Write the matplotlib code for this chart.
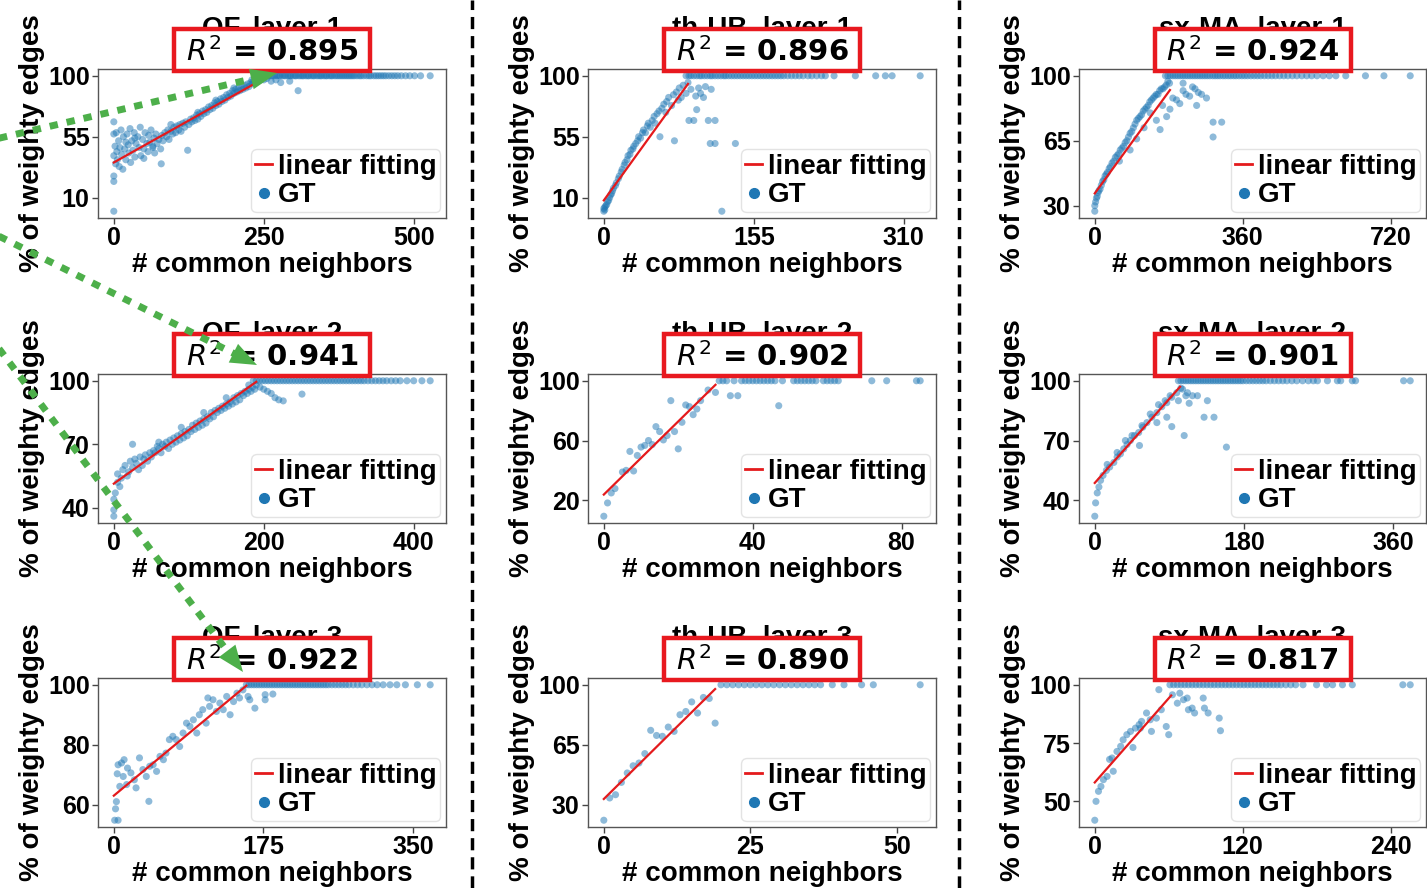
import numpy as np
import matplotlib
matplotlib.use("Agg")
import matplotlib.pyplot as plt
from matplotlib.lines import Line2D
from matplotlib.patches import FancyArrowPatch, Rectangle

plt.rcParams['font.family'] = ['Liberation Sans', 'DejaVu Sans']
plt.rcParams['font.weight'] = 'normal'
plt.rcParams['mathtext.fontset'] = 'custom'
plt.rcParams['mathtext.it'] = 'DejaVu Sans:italic:normal'
plt.rcParams['mathtext.rm'] = 'DejaVu Sans:normal'
plt.rcParams['mathtext.bf'] = 'DejaVu Sans:bold'

# ---------------- data ----------------
SATURATED = 100

titles = ["OF, layer-1", "th-UB, layer-1", "sx-MA, layer-1",
          "OF, layer-2", "th-UB, layer-2", "sx-MA, layer-2",
          "OF, layer-3", "th-UB, layer-3", "sx-MA, layer-3"]
r2_values = ["0.895", "0.896", "0.924",
             "0.941", "0.902", "0.901",
             "0.922", "0.890", "0.817"]
x_ticks = [[0, 250, 500], [0, 155, 310], [0, 360, 720],
           [0, 200, 400], [0, 40, 80], [0, 180, 360],
           [0, 175, 350], [0, 25, 50], [0, 120, 240]]
y_ticks = [[10, 55, 100], [10, 55, 100], [30, 65, 100],
           [40, 70, 100], [20, 60, 100], [40, 70, 100],
           [60, 80, 100], [30, 65, 100], [50, 75, 100]]

# linear fitting end points (x0, x1), (y0, y1)
fit_x = [[0, 252], [0, 87], [0, 183],
         [0, 190], [0, 30], [0, 103],
         [0, 155], [0, 19], [0, 62]]
fit_y = [[36, 98.5], [8, 94], [36.6, 92.3],
         [51.4, 99.5], [23.8, 97.3], [48.7, 97],
         [63, 99.7], [33.3, 97.5], [58.1, 95.4]]

# ---- OF, layer-1 ----
of1_x = [0, 0, 0, 0, 0, 0, 2, 3, 4, 5, 6, 8, 9, 10, 12, 13, 15, 16, 18, 20, 22, 24, 25, 27, 28,
         30, 32, 34, 35, 37, 40, 42, 44, 45, 48, 50, 52, 55, 57, 58, 60, 62, 65, 67, 68, 70, 72,
         75, 78, 79, 80, 82, 85, 88, 90, 92, 95, 98, 100, 103, 105, 108, 110, 112, 115, 118, 120,
         123, 125, 128, 130, 133, 135, 138, 140, 143, 145, 148, 150, 153, 155, 158, 160, 163, 165,
         168, 170, 173, 175, 178, 180, 183, 185, 188, 190, 193, 195, 198, 200, 203, 205, 208, 210,
         213, 215, 218, 220, 223, 225, 228, 230, 233, 235, 238, 240, 243, 245, 248, 250, 255, 262,
         270, 278, 293, 307, 20, 35, 50, 65, 95, 140, 170, 200, 230]
of1_y = [66, 57, 41, 26, 22, 0, 48, 35, 58, 44, 38, 52, 33, 47, 60, 42, 31, 55, 46, 38, 57, 49, 43, 61, 36,
         52, 45, 58, 40, 50, 55, 47, 62, 41, 53, 46, 58, 50, 44, 56, 51, 60, 48, 54, 43, 57, 50,
         53, 46, 35, 56, 52, 58, 55, 60, 53, 59, 57, 62, 58, 63, 60, 64, 59, 65, 62, 66,
         45, 64, 68, 66, 69, 67, 71, 68, 72, 70, 74, 72, 75, 73, 77, 75, 78, 76,
         80, 78, 81, 79, 83, 81, 84, 82, 86, 84, 87, 85, 89, 87, 90, 88, 91, 89,
         92, 90, 93, 91, 94, 92, 95, 94, 96, 95, 97, 96, 98, 97, 99, 97, 98, 96,
         97, 95, 96, 89, 51, 54, 39, 47, 64, 73, 82, 91, 97]
of1_flat_x = [240, 244, 247, 251, 255, 258, 262, 265, 268, 272, 275, 277, 281, 284, 286, 290, 293, 295,
              299, 302, 304, 308, 311, 314, 316, 320, 323, 325, 329, 332, 334, 338, 341, 344, 346, 350,
              353, 355, 359, 362, 364, 368, 371, 374, 377, 380, 383, 386, 389, 392, 395, 398, 401, 405,
              409, 412, 416, 421, 425, 428, 433, 437, 441, 445, 449, 453, 458, 463, 468, 473, 479, 486,
              493, 501, 511, 527]

# ---- th-UB, layer-1 ----
th1_x = [0, 0, 1, 1, 2, 3, 4, 5, 6, 7, 8, 9, 10, 12, 13, 15, 16, 18, 19, 21, 22, 24, 25, 27, 28, 30,
         31, 33, 35, 36, 38, 40, 41, 43, 45, 46, 48, 50, 52, 53, 55, 57, 58, 60, 62, 64, 65, 67, 70,
         72, 73, 75, 77, 78, 80, 82, 85, 87, 88, 90, 93, 95, 96, 98, 100, 103, 105, 108, 110, 111,
         115, 115, 122, 136]
th1_y = [0, 2, 1, 3, 4, 5, 7, 8, 10, 12, 13, 15, 17, 19, 21, 24, 26, 29, 31, 34, 36, 38, 41, 42, 45, 46,
         48, 50, 52, 55, 54, 58, 60, 58, 63, 65, 62, 67, 70, 65, 72, 74, 55, 76, 79, 73, 81, 84, 78,
         86, 52, 88, 82, 91, 84, 93, 87, 95, 67, 90, 67, 85, 75, 91, 87, 84, 92, 67, 50, 90,
         67, 50, 0, 50]
th1_flat_x = [85, 88, 90, 93, 96, 99, 101, 104, 107, 110, 112, 115, 118, 121, 124, 126, 129, 132, 135,
              138, 141, 144, 147, 150, 153, 156, 159, 162, 165, 168, 171, 174, 177, 180, 183, 186, 190,
              194, 198, 202, 206, 211, 215, 220, 225, 229, 238, 260, 281, 291, 298, 327]

# ---- sx-MA, layer-1 ----
sx1_x = [0, 0, 2, 4, 6, 8, 10, 13, 16, 19, 22, 25, 28, 31, 35, 38, 42, 46, 50, 54, 58, 62, 66, 70,
         74, 78, 82, 86, 90, 94, 98, 102, 106, 110, 114, 118, 122, 126, 130, 134, 138, 142, 146,
         150, 154, 158, 162, 166, 170, 174, 178, 182, 60, 86, 102, 120, 135, 150, 159, 165, 175,
         183, 190, 199, 207, 215, 215, 222, 231, 238, 244, 248, 252, 260, 272, 288, 309, 288]
sx1_y = [27, 30, 32, 34, 35, 37, 38, 39, 41, 43, 44, 46, 47, 48, 50, 51, 53, 54, 56, 57, 58, 60, 61, 62,
         64, 65, 67, 69, 70, 72, 74, 76, 77, 78, 79, 81, 82, 83, 84, 86, 87, 88, 89,
         90, 90, 92, 93, 93, 94, 95, 97, 96, 54, 60, 66, 72, 80, 76, 71, 84, 78,
         82, 88, 87, 85, 92, 96, 90, 89, 94, 93, 84, 91, 90, 88, 75, 75, 67]
sx1_flat_x = [172, 178, 184, 190, 196, 202, 208, 214, 220, 226, 232, 238, 244, 250, 256, 262, 268, 274,
              280, 287, 293, 299, 305, 312, 318, 325, 331, 338, 344, 351, 358, 365, 372, 380, 388, 396,
              404, 413, 422, 431, 440, 450, 460, 470, 481, 492, 504, 516, 528, 541, 556, 571, 587, 611,
              659, 704, 768]

# ---- OF, layer-2 ----
of2_x = [0, 0, 0, 2, 5, 5, 8, 10, 12, 15, 18, 20, 22, 25, 25, 28, 30, 33, 35, 38, 40, 42, 45, 48, 50,
         53, 55, 58, 60, 63, 65, 68, 70, 73, 75, 78, 80, 83, 85, 88, 90, 93, 95, 98, 100, 103, 105,
         108, 110, 113, 115, 118, 120, 123, 125, 128, 130, 133, 135, 138, 140, 143, 145, 148, 150,
         153, 155, 158, 160, 163, 165, 168, 170, 173, 175, 178, 180, 183, 185, 188, 190, 195, 200,
         205, 210, 215, 220, 226, 251, 60, 90, 120, 150, 180]
of2_y = [36, 39, 44, 47, 52, 56, 50, 54, 58, 60, 55, 57, 62, 59, 70, 63, 61, 58, 64, 60, 63, 65, 62, 66, 64,
         67, 66, 69, 68, 66, 70, 69, 71, 68, 72, 70, 73, 71, 74, 72, 75, 73, 76, 74, 77, 76, 79,
         77, 80, 78, 81, 79, 82, 80, 83, 82, 85, 83, 86, 85, 87, 86, 88, 87, 89,
         88, 90, 89, 92, 90, 93, 91, 94, 93, 95, 94, 96, 95, 97, 96, 98, 97, 96,
         95, 94, 92, 91, 90.5, 93.7, 71, 78, 85, 92, 98]
of2_flat_x = [186, 190, 194, 198, 202, 206, 210, 214, 218, 222, 226, 230, 234, 238, 242, 246, 250, 254,
              258, 262, 266, 270, 274, 278, 282, 286, 290, 294, 298, 302, 306, 310, 314, 318, 322, 326,
              330, 334, 339, 344, 349, 354, 359, 364, 370, 376, 382, 391, 400, 411, 422]

# ---- th-UB, layer-2 ----
th2_x = [0, 1, 2, 3, 5, 6, 7, 8, 9, 10, 11, 12, 13, 14, 15, 16, 17, 18, 19, 20, 21, 22, 23, 24, 25,
         26, 28, 30, 34, 36, 47]
th2_y = [9.3, 18.2, 24.9, 27.8, 38.9, 40, 52.7, 39.6, 50, 55.6, 56.7, 60, 57.3, 69.3, 66, 60.4, 63.3,
         86.7, 66, 54.4, 72.2, 83.8, 82.7, 77.3, 81.1, 86.7, 93.8, 92.2, 90, 90, 83.3]
th2_flat_x = [31, 32, 33, 35, 37, 38, 39, 40, 41, 42, 43, 44, 45, 46, 48, 51, 52, 53, 54, 55, 56, 57,
              59, 60, 61, 62, 63, 72, 76, 84, 85]

# ---- sx-MA, layer-2 ----
sx2_x = [0, 1, 3, 5, 7, 10, 14, 15, 18, 23, 27, 27, 31, 35, 37, 39, 43, 45, 48, 53, 54, 57, 58, 63, 67,
         69, 75, 75, 77, 81, 85, 87, 87, 91, 93, 93, 99, 101, 104, 106, 108, 110, 112, 114, 118, 124,
         132, 136, 144, 159]
sx2_y = [32, 38.7, 43.7, 46.7, 50, 52.5, 55, 58, 56.7, 59, 61.7, 64, 63.3, 65.8, 70, 68, 70, 72.5, 72.5,
         74, 67.5, 77.5, 76.7, 79, 83.3, 81.7, 84, 79, 88, 87, 90, 89, 81.7, 92.5, 91.7, 77, 94, 90,
         96.3, 95.8, 72.5, 92.5, 94, 88.7, 92.5, 92.5, 81.7, 90, 81.7, 66.7]
sx2_flat_x = [101, 104, 107, 110, 113, 116, 119, 122, 125, 128, 131, 134, 137, 140, 143, 146, 149, 152,
              155, 158, 161, 164, 167, 170, 173, 176, 179, 183, 187, 191, 195, 199, 203, 207, 212, 217,
              222, 227, 232, 238, 244, 251, 258, 264, 269, 281, 293, 297, 311, 315, 373, 381]

# ---- OF, layer-3 ----
of3_x = [1, 5, 2, 3, 4, 5, 9, 12, 16, 7, 11, 15, 20, 24, 30, 26, 34, 38, 42, 46, 50, 41, 54, 58, 61,
         65, 69, 73, 77, 81, 85, 89, 93, 97, 100, 104, 108, 110, 112, 116, 120, 124, 128, 132, 136,
         140, 144, 147, 151, 157, 159, 165, 177, 177, 186]
of3_y = [54.8, 54.8, 58.6, 61, 70.3, 73.3, 73.9, 75, 72.2, 66.1, 69.4, 66.7, 70.6, 68.3, 75.6, 65.6,
         71.7, 69.4, 72.8, 73.3, 71.1, 61.1, 76.1, 75, 77.2, 81.7, 82.8, 81.7, 79.4, 83.9, 87.2,
         86.1, 88.3, 83.9, 90, 91.7, 87.2, 95.6, 92.8, 95, 91.1, 93.9, 91.7, 96.1, 90, 94.4, 97.2,
         95.6, 98.3, 96.1, 95, 92.2, 95, 96.7, 96.9]
of3_flat_x = [155, 158, 161, 164, 167, 170, 173, 176, 179, 182, 185, 188, 191, 194, 197, 200, 203, 206,
              209, 212, 215, 218, 221, 224, 227, 230, 233, 236, 239, 242, 245, 248, 251, 255, 259, 263,
              267, 271, 275, 280, 285, 290, 296, 302, 308, 315, 323, 331, 341, 355, 370]

# ---- th-UB, layer-3 ----
th3_x = [0, 1, 2, 3, 4, 5, 6, 7, 8, 9, 10, 11, 12, 13, 14, 15, 16, 17, 18, 19]
th3_y = [20.9, 33.9, 35.8, 43, 48.5, 52.7, 54.3, 59.8, 73.4, 70.4, 69.9, 75.3, 72.8, 82.5, 84.4, 90,
         83.5, 92.6, 92, 77.6]
th3_flat_x = [20, 21, 22, 23, 24, 25, 26, 27, 28, 29, 30, 31, 32, 33, 34, 35, 36, 37, 39, 41, 44, 46, 54]

# ---- sx-MA, layer-3 ----
sx3_x = [0, 1, 3, 5, 7, 10, 12, 14, 15, 18, 21, 23, 26, 29, 31, 33, 36, 37, 38, 42, 45, 46, 50, 52, 54,
         58, 60, 63, 67, 69, 72, 75, 76, 79, 81, 88, 89, 92, 101, 102]
sx3_y = [41.9, 50, 54.3, 56.4, 59.3, 60.7, 68, 68.6, 62.9, 71.4, 73.6, 76.4, 78.6, 80, 73.1, 81.4, 82.9,
         81.4, 84.3, 87.9, 85, 80, 85.7, 97.9, 89.3, 82.1, 78.6, 95.7, 92.1, 96.4, 93.6, 94.3, 89.3,
         90, 87.9, 94.3, 90, 87.9, 85.7, 80.3]
sx3_flat_x = [61, 64, 67, 70, 73, 76, 79, 82, 85, 88, 91, 94, 97, 100, 103, 106, 109, 112, 115, 118,
              121, 124, 127, 130, 133, 136, 139, 142, 145, 148, 151, 155, 159, 163, 169, 180, 188, 193,
              201, 209, 250, 256]

rise_x = [of1_x, th1_x, sx1_x, of2_x, th2_x, sx2_x, of3_x, th3_x, sx3_x]
rise_y = [of1_y, th1_y, sx1_y, of2_y, th2_y, sx2_y, of3_y, th3_y, sx3_y]
flat_x = [of1_flat_x, th1_flat_x, sx1_flat_x, of2_flat_x, th2_flat_x, sx2_flat_x,
          of3_flat_x, th3_flat_x, sx3_flat_x]

# ---------------- styling ----------------
W, H = 1427, 888
BLUE = '#1f77b4'
RED = '#e41a1c'
BOX_RED = '#e8191f'
GREEN = '#4daf4a'
col_left = [98, 588, 1079]
col_width = [348, 348, 347]
row_top = [69, 374, 678]
ax_h = 149
box_w, box_below, box_above = 196, 2, 40   # pixels

fig = plt.figure(figsize=(W / 100, H / 100), dpi=100)
fig.patch.set_facecolor('white')

for i in range(9):
    r, c = divmod(i, 3)
    l, w, t = col_left[c], col_width[c], row_top[r]
    ax = fig.add_axes([l / W, 1 - (t + ax_h) / H, w / W, ax_h / H])
    xs = np.concatenate([np.asarray(rise_x[i], float), np.asarray(flat_x[i], float)])
    ys = np.concatenate([np.asarray(rise_y[i], float),
                         np.full(len(flat_x[i]), SATURATED, float)])
    ax.scatter(xs, ys, s=26, color=BLUE, alpha=0.5, edgecolors='none', zorder=2)
    ax.plot(fit_x[i], fit_y[i], color=RED, lw=1.6, zorder=3)
    ax.set_xticks(x_ticks[i])
    ax.set_yticks(y_ticks[i])
    ax.tick_params(labelsize=18, length=4, width=1, pad=2, color='#444444')
    for lab in ax.get_xticklabels() + ax.get_yticklabels():
        lab.set_fontweight('bold')
    for sp in ax.spines.values():
        sp.set_color('#555555')
        sp.set_linewidth(1.0)
    ax.set_xlabel('# common neighbors', fontsize=20, fontweight='bold', labelpad=1)
    ax.set_ylabel('% of weighty edges', fontsize=20, fontweight='bold', labelpad=2)
    ax.set_title(titles[i], fontsize=20, fontweight='bold', pad=24)
    # red R^2 box
    bw = box_w / w
    ax.add_patch(Rectangle((0.5 - bw / 2, 1 - box_below / ax_h), bw,
                           (box_below + box_above) / ax_h, transform=ax.transAxes,
                           facecolor='white', edgecolor=BOX_RED, lw=3.2,
                           clip_on=False, zorder=9))
    ax.text(0.5, 1 + 17 / ax_h, r'$R^2$ = ' + r2_values[i],
            transform=ax.transAxes, ha='center', va='center', fontsize=21,
            fontweight='bold', family='DejaVu Sans', zorder=10, clip_on=False)
    handles = [Line2D([], [], color=RED, lw=2),
               Line2D([], [], ls='', marker='o', color=BLUE, ms=7)]
    ax.legend(handles, ['linear fitting', 'GT'], loc='lower right',
              prop={'size': 20, 'weight': 'bold'}, handlelength=0.6,
              handletextpad=0.2, labelspacing=0.1, borderpad=0.15,
              borderaxespad=0.2, framealpha=0.8, edgecolor='#dddddd')

# dashed column separators
for xpix in [472, 959]:
    fig.add_artist(Line2D([xpix / W, xpix / W], [0, 1], transform=fig.transFigure,
                          color='black', lw=2.5, linestyle=(0, (3.5, 2))))

# green dotted arrows (pixel coordinates of the annotation path)
arrows = [((0, 138), (277, 73)),
          ((0, 236.7), (257, 365)),
          ((0, 350), (243, 672))]
for (x0, y0), (x1, y1) in arrows:
    d = np.array([x1 - x0, y1 - y0], float)
    u = d / np.hypot(*d)
    start = np.array([x0, y0]) - 40 * u
    base = np.array([x1, y1]) - 22 * u
    fig.add_artist(Line2D([start[0] / W, base[0] / W], [1 - start[1] / H, 1 - base[1] / H],
                          transform=fig.transFigure, color=GREEN, lw=5,
                          linestyle=(0, (1.2, 1.3)), solid_capstyle='butt',
                          dash_capstyle='butt', zorder=20))
    tail = np.array([x1, y1]) - 26 * u
    fig.add_artist(FancyArrowPatch((tail[0] / W, 1 - tail[1] / H), (x1 / W, 1 - y1 / H),
                                   transform=fig.transFigure,
                                   arrowstyle='-|>,head_length=1.9,head_width=0.75',
                                   mutation_scale=10, color=GREEN, lw=0,
                                   shrinkA=0, shrinkB=0, zorder=21))

fig.savefig('out.png', dpi=100, facecolor='white')
